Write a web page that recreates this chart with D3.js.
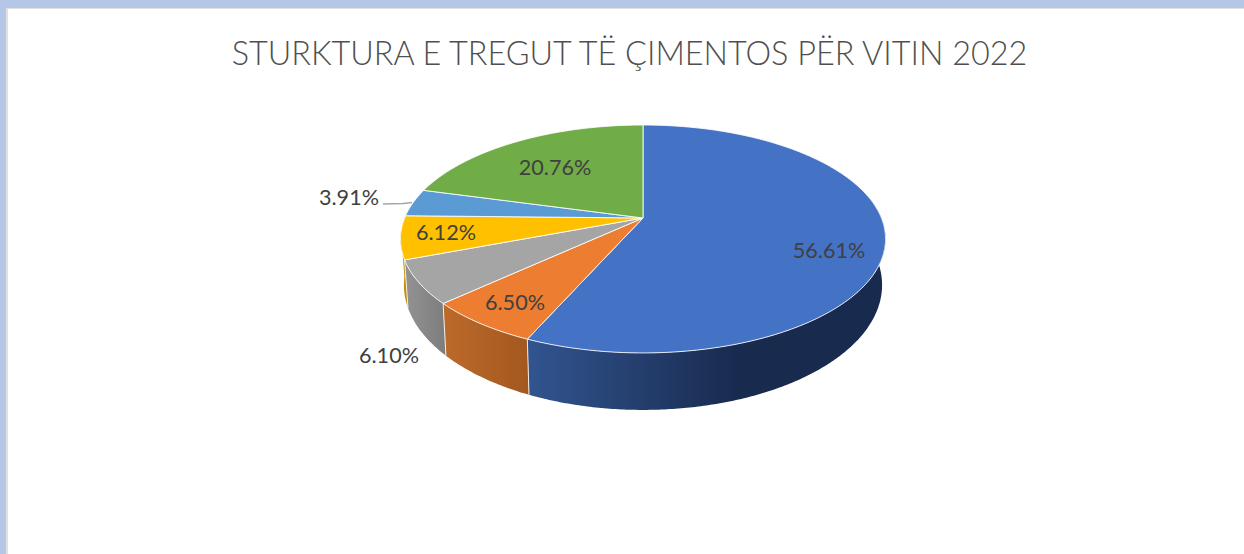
<!DOCTYPE html>
<html><head><meta charset="utf-8">
<script src="https://cdn.jsdelivr.net/npm/d3@7/dist/d3.min.js"></script>
<style>html,body{margin:0;padding:0;background:#fff;overflow:hidden}svg{display:block}</style>
</head><body><svg id="c" width="1244" height="554"></svg>
<script>
const chartTitle = "STURKTURA E TREGUT TË ÇIMENTOS PËR VITIN 2022";
const categories = ["A","B","C","D","E","F"];
const shares = [56.61, 6.50, 6.10, 6.12, 3.91, 20.76];
const labels = ["56.61%","6.50%","6.10%","6.12%","3.91%","20.76%"];
const topColors = ["#4472c4","#ed7d31","#a5a5a5","#ffc000","#5b9bd5","#70ad47"];
const sideLeft  = ["#31548f","#bc6a2b","#939393","#c69500","#4a7cab","#5a8a39"];
const sideRight = ["#182a4e","#a4581f","#7e7e7e","#bf9000","#4a7cab","#5a8a39"];
const labelDx = [186,-128,-254,-197,-294,-88];
const labelDy = [32,84,137,14,-21,-51];

const svg = d3.select("#c");
const defs = svg.append("defs");

// frame
svg.append("rect").attr("width",1244).attr("height",554).attr("fill","#b4c7e7");
svg.append("rect").attr("x",6).attr("y",8).attr("width",1238).attr("height",546).attr("fill","#e2e0de");
svg.append("rect").attr("x",8).attr("y",9).attr("width",1236).attr("height",545).attr("fill","#fff");

svg.append("text").attr("x",629.5).attr("y",65).attr("text-anchor","middle")
  .attr("font-family","Lato, 'Open Sans', sans-serif").attr("font-weight",300).attr("font-size",32.4)
  .attr("fill","#4f4f4f").text(chartTitle);

// perspective disc: unit disc (u,v) projected; k is the foreshortening
const k = 0.184;
const cx = 643;
const xTop = d3.scaleLinear().domain([-1,1]).range([cx-238.4,cx+238.4]);
const yTop = d3.scaleLinear().domain([-1,1]).range([218-110.1,218+110.1]);
const xBot = d3.scaleLinear().domain([-1,1]).range([cx-235,cx+235]);
const yBot = d3.scaleLinear().domain([-1,1]).range([262-120.7,262+120.7]);
const proj = (a, xs, ys) => {
  const u = Math.sin(a), v = -Math.cos(a), w = 1 - k*v;
  return [xs(u/w), ys(v/w)];
};
const samples = (a0,a1) => {
  const n = Math.max(2, Math.ceil(Math.abs(a1-a0)/0.01));
  return d3.range(n+1).map(i => a0+(a1-a0)*i/n);
};
const line = d3.line();
const pie = d3.pie().sort(null).value(d=>d);
const arcs = pie(shares);

// side wall: visible only on the front of the disc
const vis0 = 78*Math.PI/180, vis1 = 263*Math.PI/180;
const sideGroup = svg.append("g");
arcs.forEach((d,i)=>{
  const a0 = Math.max(d.startAngle,vis0), a1 = Math.min(d.endAngle,vis1);
  if (a1 <= a0) return;
  const xa = proj(a0,xTop,yTop)[0], xb = proj(a1,xTop,yTop)[0];
  const id = "g"+i;
  const g = defs.append("linearGradient").attr("id",id).attr("gradientUnits","userSpaceOnUse")
    .attr("x1", i===0 ? 530 : xb).attr("x2", i===0 ? 740 : xa).attr("y1",0).attr("y2",0);
  g.append("stop").attr("offset",0).attr("stop-color",sideLeft[i]);
  g.append("stop").attr("offset",1).attr("stop-color",sideRight[i]);
  const s = samples(a0,a1);
  const pts = s.map(a=>proj(a,xTop,yTop)).concat(s.slice().reverse().map(a=>proj(a,xBot,yBot)));
  sideGroup.append("path").attr("d",line(pts)+"Z").attr("fill",`url(#${id})`);
});
// seams between wall pieces
arcs.slice(0,2).concat(arcs.slice(2,3)).forEach(d=>{
  const a = d.endAngle;
  sideGroup.append("path").attr("d",line([proj(a,xTop,yTop),proj(a,xBot,yBot)]))
    .attr("stroke","#f4ece6").attr("stroke-width",1).attr("fill","none");
});

// top faces
const topGroup = svg.append("g");
arcs.forEach((d,i)=>{
  const pts = [[xTop(0),yTop(0)]].concat(samples(d.startAngle,d.endAngle).map(a=>proj(a,xTop,yTop)));
  topGroup.append("path").attr("d",line(pts)+"Z").attr("fill",topColors[i])
    .attr("stroke","#fff").attr("stroke-opacity",0.85).attr("stroke-width",1).attr("stroke-linejoin","round");
});

// leader line for the small slice
const lx = xTop(0), ly = yTop(0);
svg.append("path").attr("d",d3.line().curve(d3.curveLinear)([[lx-260,ly-14],[lx-240,ly-14.5],[lx-231,ly-15.5]]))
  .attr("fill","none").attr("stroke","#a6a6a6").attr("stroke-width",1.3);

// labels
svg.append("g").selectAll("text").data(labels).join("text")
  .attr("x",(d,i)=>lx+labelDx[i]).attr("y",(d,i)=>ly+labelDy[i]).attr("dy","0.35em")
  .attr("text-anchor","middle").attr("font-family","Lato, 'Open Sans', sans-serif")
  .attr("font-size",21.6).attr("fill","#404040").text(d=>d);
</script></body></html>
